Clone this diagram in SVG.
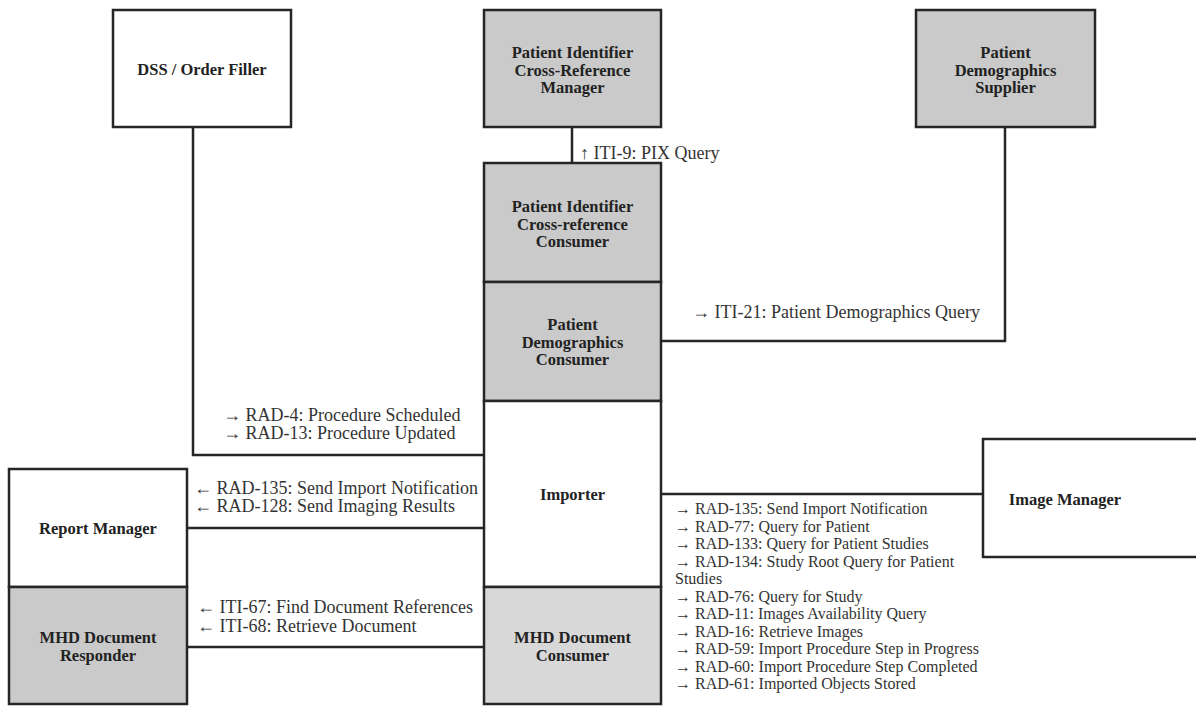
<svg xmlns="http://www.w3.org/2000/svg" width="1196" height="706" viewBox="0 0 1196 706">
<style>
.box{stroke:#262626;stroke-width:2.5;}
.w{fill:#ffffff;}
.g{fill:#c9cac9;}
.lg{fill:#d8d8d8;}
.nl{font-family:"Liberation Serif","Times New Roman",serif;font-weight:bold;font-size:16.5px;fill:#222;text-anchor:middle;}
.el{font-family:"Liberation Serif","Times New Roman",serif;font-size:18px;fill:#333;}
.er{font-family:"Liberation Serif","Times New Roman",serif;font-size:16px;fill:#333;}
.con{fill:none;stroke:#262626;stroke-width:2.5;}
</style>
<rect width="1196" height="706" fill="#ffffff"/>
<g id="connectors">
<path class="con" d="M193,127 V455 H484"/>
<path class="con" d="M572,127 V163"/>
<path class="con" d="M1005,127 V341 H661"/>
<path class="con" d="M187,528 H484"/>
<path class="con" d="M187,647 H484"/>
<path class="con" d="M661,494 H983"/>
</g>
<g id="dss">
<rect class="box w" x="113" y="10" width="178" height="117"/>
<text class="nl" x="202" y="75">DSS / Order Filler</text>
</g>
<g id="pixmgr">
<rect class="box g" x="484" y="10" width="177" height="117"/>
<text class="nl" x="572.5" y="58">Patient Identifier</text>
<text class="nl" x="572.5" y="75.5">Cross-Reference</text>
<text class="nl" x="572.5" y="93">Manager</text>
</g>
<g id="pds">
<rect class="box g" x="916" y="10" width="179" height="117"/>
<text class="nl" x="1005.5" y="58">Patient</text>
<text class="nl" x="1005.5" y="75.5">Demographics</text>
<text class="nl" x="1005.5" y="93">Supplier</text>
</g>
<g id="pixconsumer">
<rect class="box g" x="484" y="163" width="177" height="119"/>
<text class="nl" x="572.5" y="212">Patient Identifier</text>
<text class="nl" x="572.5" y="229.5">Cross-reference</text>
<text class="nl" x="572.5" y="247">Consumer</text>
</g>
<g id="pdconsumer">
<rect class="box g" x="484" y="282" width="177" height="119"/>
<text class="nl" x="572.5" y="330">Patient</text>
<text class="nl" x="572.5" y="347.5">Demographics</text>
<text class="nl" x="572.5" y="365">Consumer</text>
</g>
<g id="importer">
<rect class="box w" x="484" y="401" width="177" height="186"/>
<text class="nl" x="572.5" y="500">Importer</text>
</g>
<g id="mhdconsumer">
<rect class="box lg" x="484" y="587" width="177" height="117"/>
<text class="nl" x="572.5" y="643">MHD Document</text>
<text class="nl" x="572.5" y="661">Consumer</text>
</g>
<g id="reportmgr">
<rect class="box w" x="9" y="469" width="178" height="118"/>
<text class="nl" x="98" y="534">Report Manager</text>
</g>
<g id="mhdresponder">
<rect class="box g" x="9" y="587" width="178" height="117"/>
<text class="nl" x="98" y="643">MHD Document</text>
<text class="nl" x="98" y="661">Responder</text>
</g>
<g id="imagemgr">
<rect class="box w" x="983" y="439" width="220" height="118"/>
<text class="nl" x="1065" y="505">Image Manager</text>
</g>
<g id="labels">
<text class="el" x="580" y="159">↑ ITI-9: PIX Query</text>
<text class="el" x="692" y="318">→ ITI-21: Patient Demographics Query</text>
<text class="el" x="223" y="421">→ RAD-4: Procedure Scheduled</text>
<text class="el" x="223" y="439">→ RAD-13: Procedure Updated</text>
<text class="el" x="194" y="494">← RAD-135: Send Import Notification</text>
<text class="el" x="194" y="512">← RAD-128: Send Imaging Results</text>
<text class="el" x="197" y="613">← ITI-67: Find Document References</text>
<text class="el" x="197" y="632">← ITI-68: Retrieve Document</text>
<text class="er" x="675" y="514">→ RAD-135: Send Import Notification</text>
<text class="er" x="675" y="531.5">→ RAD-77: Query for Patient</text>
<text class="er" x="675" y="549">→ RAD-133: Query for Patient Studies</text>
<text class="er" x="675" y="566.5">→ RAD-134: Study Root Query for Patient</text>
<text class="er" x="675" y="584">Studies</text>
<text class="er" x="675" y="601.5">→ RAD-76: Query for Study</text>
<text class="er" x="675" y="619">→ RAD-11: Images Availability Query</text>
<text class="er" x="675" y="636.5">→ RAD-16: Retrieve Images</text>
<text class="er" x="675" y="654">→ RAD-59: Import Procedure Step in Progress</text>
<text class="er" x="675" y="671.5">→ RAD-60: Import Procedure Step Completed</text>
<text class="er" x="675" y="689">→ RAD-61: Imported Objects Stored</text>
</g>
</svg>
